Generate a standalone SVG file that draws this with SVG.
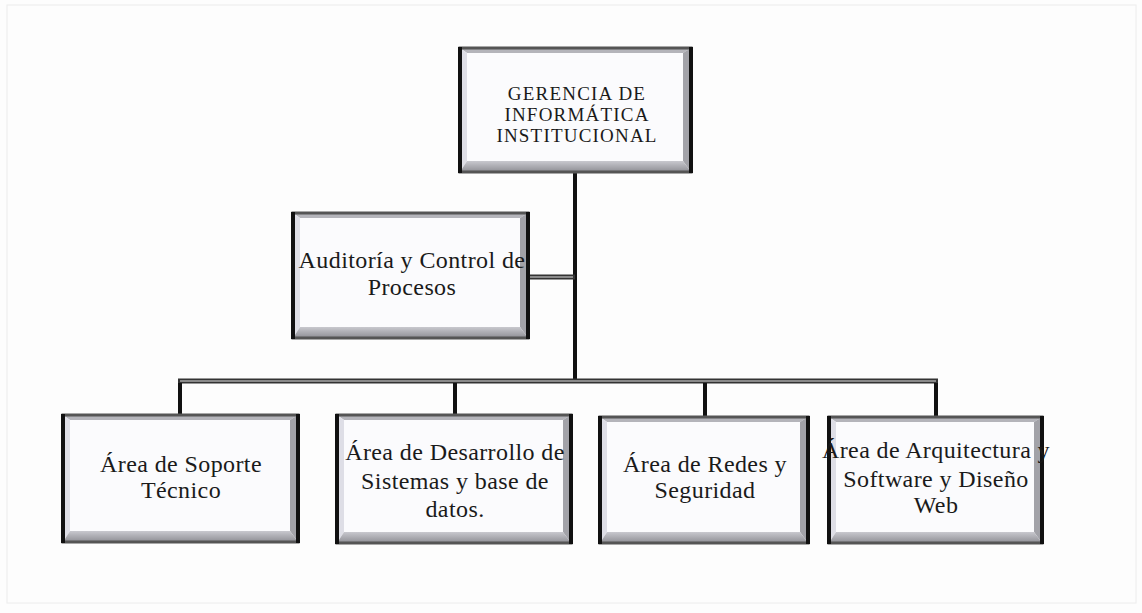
<svg xmlns="http://www.w3.org/2000/svg" width="1142" height="613" viewBox="0 0 1142 613">
<defs>
<linearGradient id="gb" x1="0" y1="0" x2="0" y2="1">
<stop offset="0" stop-color="#c8c8ce"/>
<stop offset="1" stop-color="#8e8e94"/>
</linearGradient>
<style>
.face{fill:#fbfbfd}
.bt{fill:#b4b4ba}
.bl{fill:#dedee6}
.br{fill:#a2a2a8}
.bb{fill:url(#gb)}
.edge{fill:none;stroke:#555;stroke-width:3}
.side{stroke:#111;stroke-width:4}
.blk{stroke:#111;stroke-width:4;fill:none}
.gout{stroke:#333;stroke-width:5;fill:none}
.gin{stroke:#8a8a8a;stroke-width:2;fill:none}
text{font-family:"Liberation Serif","Times New Roman",serif;fill:#1a1a1a;text-anchor:middle}
.t1{font-size:19px;letter-spacing:1.2px}
.t2{font-size:24px;letter-spacing:0.4px}
</style>
</defs>
<rect x="0" y="0" width="1142" height="613" fill="#fdfdfd"/>
<rect x="7" y="5" width="1129" height="598" fill="none" stroke="#ececec" stroke-width="1"/>
<g id="connectors">
<line class="blk" x1="575" y1="172" x2="575" y2="383"/>
<line class="gout" x1="528" y1="277" x2="575" y2="277"/>
<line class="gin" x1="528" y1="277" x2="573" y2="277"/>
<line class="gout" x1="178" y1="381" x2="938" y2="381"/>
<line class="gin" x1="180" y1="381" x2="936" y2="381"/>
<line class="blk" x1="180" y1="383" x2="180" y2="415"/>
<line class="blk" x1="455" y1="383" x2="455" y2="415"/>
<line class="blk" x1="705" y1="383" x2="705" y2="417"/>
<line class="blk" x1="936" y1="383" x2="936" y2="417"/>
</g>
<g id="gerencia">
<rect class="face" x="460" y="48" width="231" height="124"/>
<polygon class="bt" points="460,48 691,48 683,53 467,53"/>
<polygon class="bl" points="460,48 467,53 467,161 460,172"/>
<polygon class="br" points="691,48 691,172 683,161 683,53"/>
<polygon class="bb" points="460,172 691,172 683,161 467,161"/>
<rect class="edge" x="460" y="48" width="231" height="124"/>
<line class="side" x1="460" y1="47" x2="460" y2="173"/>
<line class="side" x1="691" y1="47" x2="691" y2="173"/>
<text class="t1" x="577" y="100">GERENCIA DE</text>
<text class="t1" x="577" y="121">INFORMÁTICA</text>
<text class="t1" x="577" y="142">INSTITUCIONAL</text>
</g>
<g id="auditoria">
<rect class="face" x="293" y="213" width="235" height="125"/>
<polygon class="bt" points="293,213 528,213 520,218 300,218"/>
<polygon class="bl" points="293,213 300,218 300,327 293,338"/>
<polygon class="br" points="528,213 528,338 520,327 520,218"/>
<polygon class="bb" points="293,338 528,338 520,327 300,327"/>
<rect class="edge" x="293" y="213" width="235" height="125"/>
<line class="side" x1="293" y1="212" x2="293" y2="339"/>
<line class="side" x1="528" y1="212" x2="528" y2="339"/>
<text class="t2" x="412" y="268">Auditoría y Control de</text>
<text class="t2" x="412" y="295">Procesos</text>
</g>
<g id="soporte">
<rect class="face" x="63" y="415" width="235" height="127"/>
<polygon class="bt" points="63,415 298,415 290,420 70,420"/>
<polygon class="bl" points="63,415 70,420 70,531 63,542"/>
<polygon class="br" points="298,415 298,542 290,531 290,420"/>
<polygon class="bb" points="63,542 298,542 290,531 70,531"/>
<rect class="edge" x="63" y="415" width="235" height="127"/>
<line class="side" x1="63" y1="414" x2="63" y2="543"/>
<line class="side" x1="298" y1="414" x2="298" y2="543"/>
<text class="t2" x="181" y="472">Área de Soporte</text>
<text class="t2" x="181" y="498">Técnico</text>
</g>
<g id="desarrollo">
<rect class="face" x="337" y="415" width="234" height="128"/>
<polygon class="bt" points="337,415 571,415 563,420 344,420"/>
<polygon class="bl" points="337,415 344,420 344,532 337,543"/>
<polygon class="br" points="571,415 571,543 563,532 563,420"/>
<polygon class="bb" points="337,543 571,543 563,532 344,532"/>
<rect class="edge" x="337" y="415" width="234" height="128"/>
<line class="side" x1="337" y1="414" x2="337" y2="544"/>
<line class="side" x1="571" y1="414" x2="571" y2="544"/>
<text class="t2" x="455" y="460">Área de Desarrollo de</text>
<text class="t2" x="455" y="489">Sistemas y base de</text>
<text class="t2" x="455" y="517">datos.</text>
</g>
<g id="redes">
<rect class="face" x="600" y="417" width="208" height="126"/>
<polygon class="bt" points="600,417 808,417 800,422 607,422"/>
<polygon class="bl" points="600,417 607,422 607,532 600,543"/>
<polygon class="br" points="808,417 808,543 800,532 800,422"/>
<polygon class="bb" points="600,543 808,543 800,532 607,532"/>
<rect class="edge" x="600" y="417" width="208" height="126"/>
<line class="side" x1="600" y1="416" x2="600" y2="544"/>
<line class="side" x1="808" y1="416" x2="808" y2="544"/>
<text class="t2" x="705" y="472">Área de Redes y</text>
<text class="t2" x="705" y="498">Seguridad</text>
</g>
<g id="arquitectura">
<rect class="face" x="829" y="417" width="213" height="126"/>
<polygon class="bt" points="829,417 1042,417 1034,422 836,422"/>
<polygon class="bl" points="829,417 836,422 836,532 829,543"/>
<polygon class="br" points="1042,417 1042,543 1034,532 1034,422"/>
<polygon class="bb" points="829,543 1042,543 1034,532 836,532"/>
<rect class="edge" x="829" y="417" width="213" height="126"/>
<line class="side" x1="829" y1="416" x2="829" y2="544"/>
<line class="side" x1="1042" y1="416" x2="1042" y2="544"/>
<text class="t2" x="936" y="458">Área de Arquitectura y</text>
<text class="t2" x="936" y="487">Software y Diseño</text>
<text class="t2" x="936" y="513">Web</text>
</g>
</svg>
